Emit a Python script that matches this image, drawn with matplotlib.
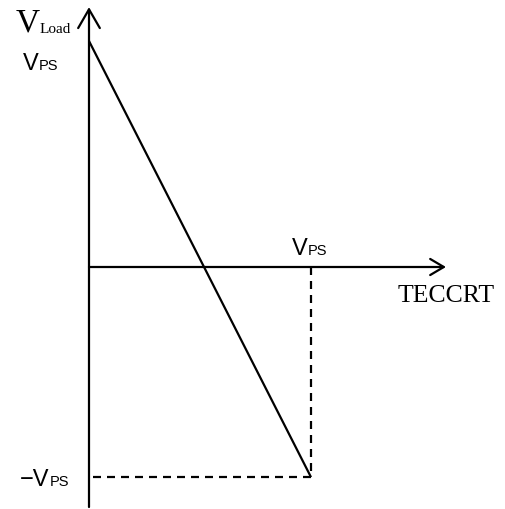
import matplotlib
matplotlib.use("Agg")
import matplotlib.pyplot as plt

# sketch of load voltage vs TEC current (x in units of VPS, y in units of VPS)
line_x = [0.0, 1.0]
line_y = [1.0, -0.93]
vps_x = 1.0
vps_neg = -0.93
axis_y_range = [-1.062, 1.150]
axis_x_range = [0.0, 1.608]

W, H = 506, 510
fig = plt.figure(figsize=(W / 100, H / 100), dpi=100)
ax = fig.add_axes([0, 0, 1, 1])
# 1 x unit = 222 px, 1 y unit = 226 px, origin at (89, 268) px
ax.set_xlim(-89 / 222, (W - 89) / 222)
ax.set_ylim(-(H - 268) / 226, 268 / 226)
ax.axis("off")

lw = 1.6
black = "black"

# axes with open arrow heads
ax.annotate("", xy=(0, axis_y_range[1]), xytext=(0, axis_y_range[0]),
            arrowprops=dict(arrowstyle="->,head_length=13.5,head_width=7.8",
                            mutation_scale=1, lw=lw, color=black,
                            shrinkA=0, shrinkB=0))
ax.annotate("", xy=(axis_x_range[1], 0), xytext=(axis_x_range[0], 0),
            arrowprops=dict(arrowstyle="->,head_length=9.8,head_width=5.8",
                            mutation_scale=1, lw=lw, color=black,
                            shrinkA=0, shrinkB=0))

# load line
ax.plot(line_x, line_y, color=black, lw=lw, solid_capstyle="butt")

# dashed guides
dash = (8 * 0.72 / lw, 6 * 0.72 / lw)
ax.plot([vps_x, vps_x], [0, vps_neg], color=black, lw=lw, dashes=dash)
ax.plot([vps_x, 4 / 222], [vps_neg, vps_neg], color=black, lw=lw, dashes=dash)


def px(x, y):
    return x / W, 1 - y / H


serif = "Liberation Serif"
sans = "Liberation Sans"

# V_Load
fig.text(*px(16, 31), "V", fontsize=24, family=serif, va="baseline", ha="left")
fig.text(*px(40, 33), "Load", fontsize=11, family=serif, va="baseline", ha="left")

# VPS labels
def vps(x, y, prefix=""):
    t = fig.text(*px(x, y), prefix + "V", fontsize=17, family=sans,
                 va="baseline", ha="left")
    fig.canvas.draw()
    bb = t.get_window_extent()
    fig.text(bb.x1 / W + 0.5 / W, 1 - y / H, "PS", fontsize=10.5, family=sans,
             va="baseline", ha="left")


vps(23, 70)
vps(292, 255)
vps(20, 486, "\u2212")

fig.text(*px(398, 302), "TECCRT", fontsize=18.5, family=serif,
         va="baseline", ha="left")

fig.savefig("out.png", dpi=100)
